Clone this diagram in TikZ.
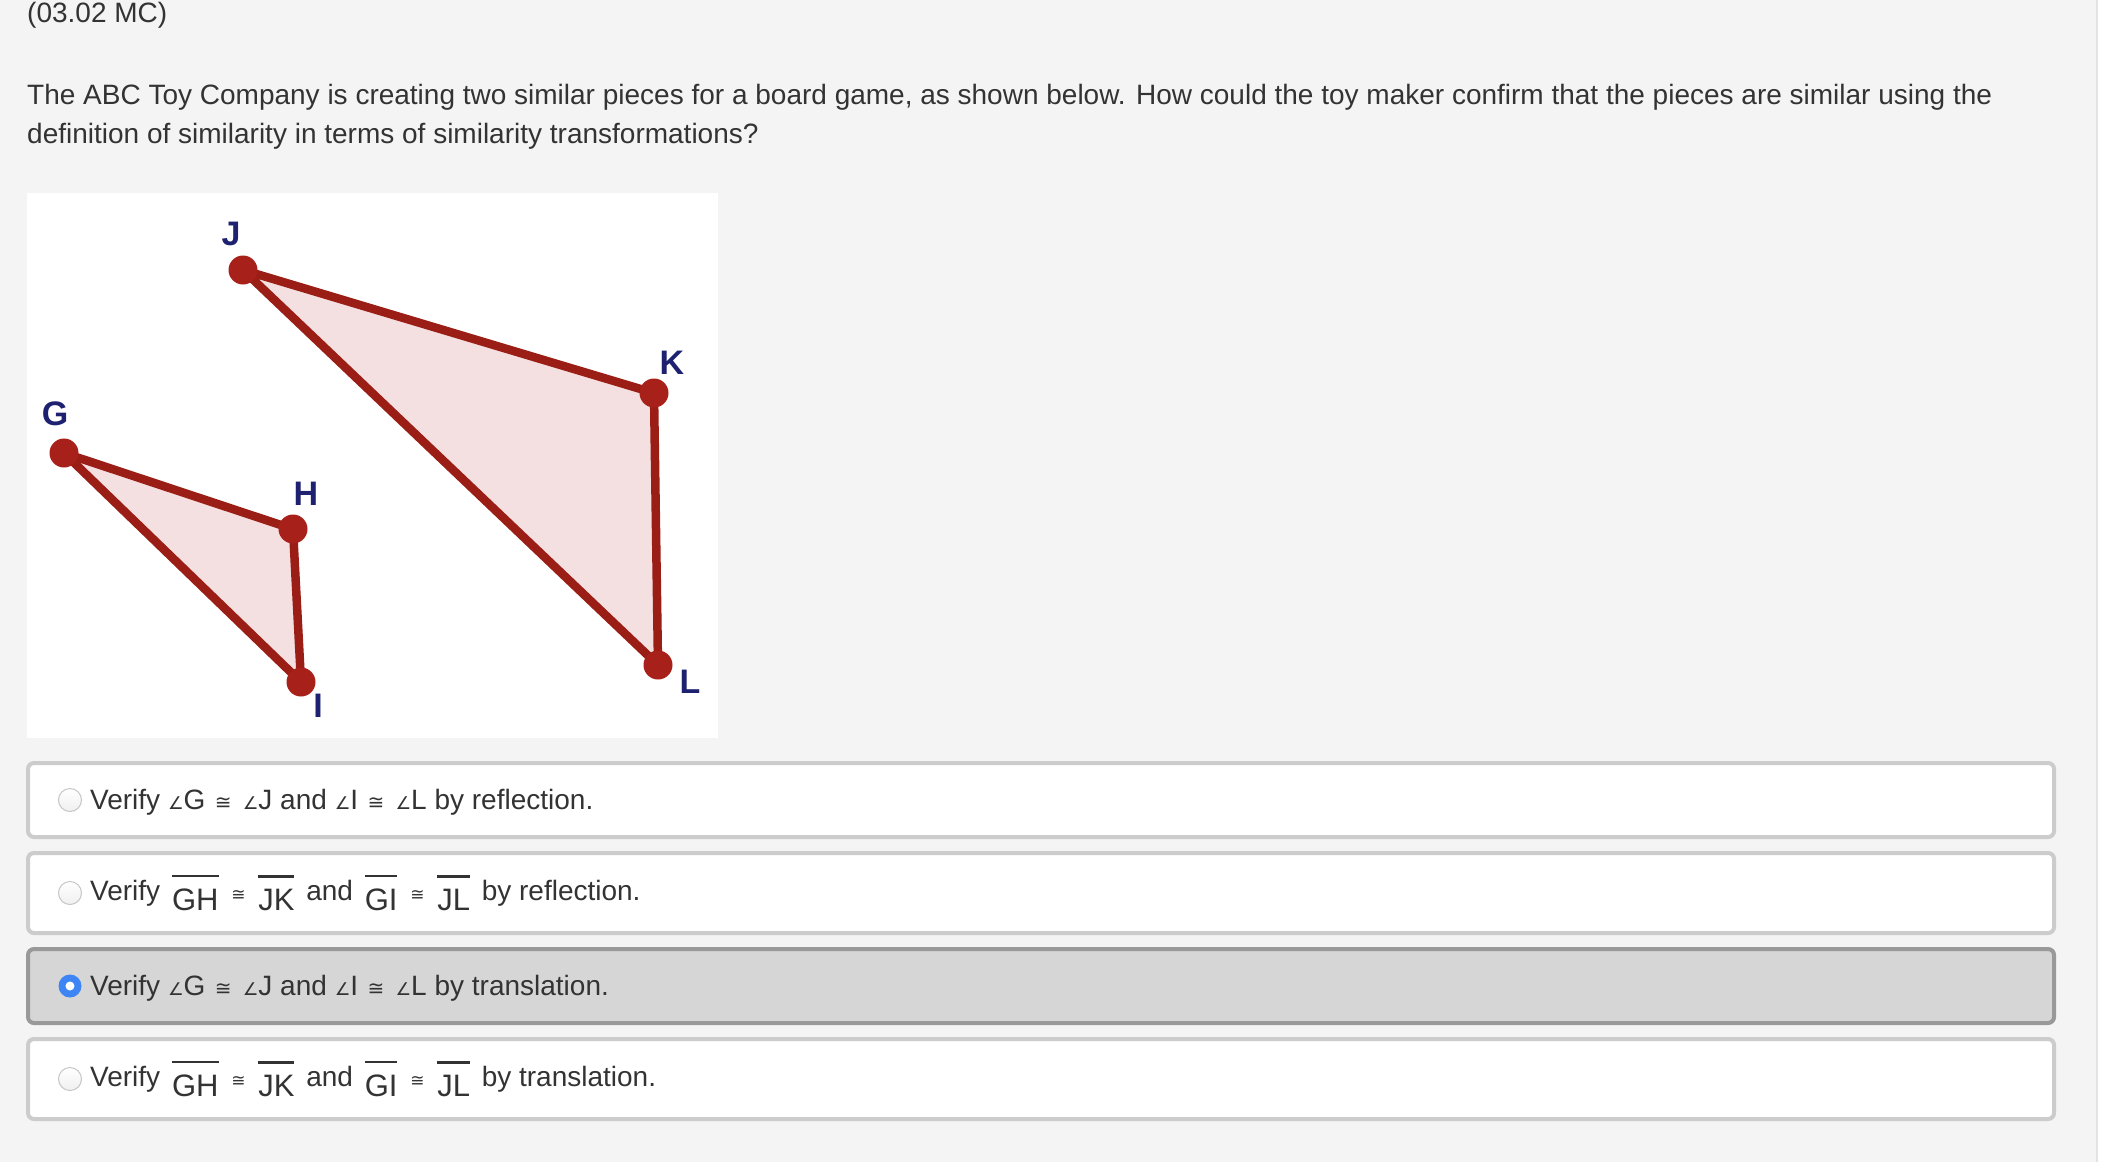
\documentclass[tikz,border=0pt]{standalone}
\usepackage{fontspec}
\setmainfont{Liberation Sans}
\newfontfamily\symf{DejaVu Sans}
\usetikzlibrary{positioning}

\definecolor{pagebg}{HTML}{F4F4F4}
\definecolor{txt}{HTML}{333333}
\definecolor{edgered}{HTML}{9A1E16}
\definecolor{dotred}{HTML}{A8201A}
\definecolor{piecepink}{HTML}{F4E0E1}
\definecolor{navy}{HTML}{1E2170}
\definecolor{boxline}{HTML}{CCCCCC}
\definecolor{selfill}{HTML}{D6D6D6}
\definecolor{selline}{HTML}{999999}
\definecolor{radioblue}{HTML}{3D85F5}

\newcommand\angsym{{\symf\fontsize{17.5}{17.5}\selectfont ∠}}
\newcommand\cngsym{\hspace{1.5pt}{\symf\fontsize{20}{20}\selectfont ≅}\hspace{3.5pt}}
\newcommand\segcng{\hspace{1pt}{\symf\fontsize{17}{17}\selectfont ≅}\hspace{1pt}}
\newcommand\seg[1]{\hspace{4pt}\raisebox{-10pt}{\vbox{\hrule height 2.5pt\kern 11pt\hbox{\fontsize{31}{31}\selectfont #1}}}\hspace{4pt}}

\begin{document}
\begin{tikzpicture}[x=1pt, y=-1pt,
  maintext/.style={anchor=base west, inner sep=0pt, text=txt, font=\fontsize{28}{34}\selectfont},
  piece/.style={draw=edgered, fill=piecepink, line width=8.5pt, line join=round},
  dot/.style={circle, fill=dotred, minimum size=29pt, inner sep=0pt},
  ptlabel/.style={inner sep=0pt, text=navy, font=\bfseries\fontsize{34}{34}\selectfont},
  optbox/.style={draw=boxline, line width=4pt, fill=white, rounded corners=6pt, minimum width=2026pt, inner sep=0pt},
  selbox/.style={optbox, draw=selline, fill=selfill},
  radio/.style={circle, draw=gray!45, line width=1pt, top color=white, bottom color=gray!12, minimum size=23pt, inner sep=0pt},
  radiosel/.style={circle, fill=radioblue, minimum size=23pt, inner sep=0pt}]
  \useasboundingbox (0,0) rectangle (2116,1162);
  \fill[pagebg] (0,0) rectangle (2097,1162);
  \fill[white] (2097,0) rectangle (2116,1162);
  \draw[gray!22, line width=2pt] (2097,0) -- (2097,1162);

  % question
  \node[maintext] (code) at (27,22) {(03.02 MC)};
  \node[maintext] (q1) at (27,104) {The ABC Toy Company is creating two similar pieces for a board game, as shown below. How could the toy maker confirm that the pieces are similar using the};
  \node[maintext, yshift=-39pt] (q2) at (q1.base west) {definition of similarity in terms of similarity transformations?};

  % the two pieces
  \fill[white] (27,193) rectangle (718,738);
  \coordinate (G) at (64,453);
  \coordinate (H) at (293,529);
  \coordinate (I) at (301,682);
  \coordinate (J) at (243,270);
  \coordinate (K) at (654,393);
  \coordinate (L) at (658,665);
  \filldraw[piece] (G) -- (H) -- (I) -- cycle;
  \filldraw[piece] (J) -- (K) -- (L) -- cycle;
  \node[dot] (Gdot) at (G) {};
  \node[dot] (Hdot) at (H) {};
  \node[dot] (Idot) at (I) {};
  \node[dot] (Jdot) at (J) {};
  \node[dot] (Kdot) at (K) {};
  \node[dot] (Ldot) at (L) {};
  \node[ptlabel] (Glab) at (55,414) {G};
  \node[ptlabel] (Hlab) at (306,494) {H};
  \node[ptlabel] (Ilab) at (318,706) {I};
  \node[ptlabel] (Jlab) at (231,234) {J};
  \node[ptlabel] (Klab) at (672,363) {K};
  \node[ptlabel] (Llab) at (690,682) {L};

  % answer choices
  \node[optbox, minimum height=74pt] (opt1) at (1041,800) {};
  \node[radio] (r1) at ([xshift=44pt]opt1.west) {};
  \node[maintext] (t1) at ([xshift=64pt, yshift=-9pt]opt1.west) {Verify \angsym G \cngsym{} \angsym J and \angsym I \cngsym{} \angsym L by reflection.};

  \node[optbox, minimum height=80pt] (opt2) at (1041,893) {};
  \node[radio] (r2) at ([xshift=44pt]opt2.west) {};
  \node[maintext] (t2) at ([xshift=64pt, yshift=-7pt]opt2.west) {Verify \seg{GH} \segcng{} \seg{JK} and \seg{GI} \segcng{} \seg{JL} by reflection.};

  \node[selbox, minimum height=74pt] (opt3) at (1041,986) {};
  \node[radiosel] (r3) at ([xshift=44pt]opt3.west) {};
  \node[circle, fill=white, minimum size=9pt, inner sep=0pt] (r3in) at (r3) {};
  \node[maintext] (t3) at ([xshift=64pt, yshift=-9pt]opt3.west) {Verify \angsym G \cngsym{} \angsym J and \angsym I \cngsym{} \angsym L by translation.};

  \node[optbox, minimum height=80pt] (opt4) at (1041,1079) {};
  \node[radio] (r4) at ([xshift=44pt]opt4.west) {};
  \node[maintext] (t4) at ([xshift=64pt, yshift=-7pt]opt4.west) {Verify \seg{GH} \segcng{} \seg{JK} and \seg{GI} \segcng{} \seg{JL} by translation.};
\end{tikzpicture}
\end{document}
